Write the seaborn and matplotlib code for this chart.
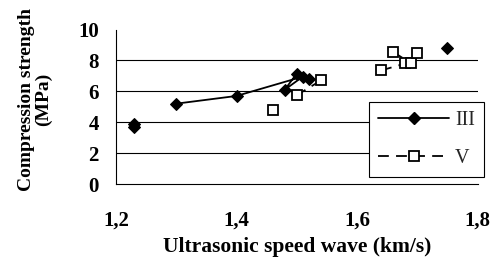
import matplotlib
matplotlib.use("Agg")
import matplotlib.pyplot as plt
import seaborn as sns
import pandas as pd
from matplotlib.lines import Line2D

sns.set_theme(style="white")
plt.rcParams["font.family"] = ["Liberation Serif", "DejaVu Serif"]

# ---------- data ----------
# series III: solid line with black diamonds (seg = which points are joined)
iii_x = [1.23, 1.23, 1.30, 1.40, 1.51, 1.48, 1.50, 1.52, 1.75]
iii_y = [3.9, 3.7, 5.2, 5.7, 6.95, 6.1, 7.15, 6.8, 8.8]
iii_seg = [0, 1, 2, 2, 2, 2, 2, 2, 3]

# series V: dashed line with open squares (only short links are visible)
v_x = [1.46, 1.54, 1.50, 1.64, 1.68, 1.66, 1.69, 1.70]
v_y = [4.8, 6.7, 5.75, 7.35, 7.8, 8.55, 7.8, 8.45]
v_seg = [0, 1, 1, 2, 2, 3, 3, 4]

x_ticks = [1.2, 1.4, 1.6, 1.8]
x_ticklabels = ["1,2", "1,4", "1,6", "1,8"]
y_ticks = [0, 2, 4, 6, 8, 10]
series_names = ["III", "V"]

df_iii = pd.DataFrame({"x": iii_x, "y": iii_y, "seg": iii_seg})
df_v = pd.DataFrame({"x": v_x, "y": v_y, "seg": v_seg})

fig = plt.figure(figsize=(4.97, 2.70), dpi=100)
ax = fig.add_axes([0.2334, 0.3185, 0.7274, 0.5722])

v_style = dict(color="black", lw=1.3, linestyle=(0, (6, 4)), marker="s",
               markersize=7.2, markerfacecolor="white", markeredgecolor="black",
               markeredgewidth=1.3)
iii_style = dict(color="black", lw=1.3, linestyle="-", marker="D",
                 markersize=6.6, markerfacecolor="black", markeredgecolor="black")

sns.lineplot(data=df_v, x="x", y="y", units="seg", estimator=None, sort=False,
             ax=ax, legend=False, **v_style)
sns.lineplot(data=df_iii, x="x", y="y", units="seg", estimator=None, sort=False,
             ax=ax, legend=False, **iii_style)

ax.set_xlim(1.2, 1.8)
ax.set_ylim(0, 10)
ax.set_xticks(x_ticks)
ax.set_xticklabels(x_ticklabels)
ax.set_yticks(y_ticks)
ax.set_yticklabels([str(t) for t in y_ticks])

ax.grid(False)
for t in y_ticks[1:-1]:
    ax.axhline(t, color="black", lw=0.8, zorder=0)

for s in ["top", "right"]:
    ax.spines[s].set_visible(False)
for s in ["left", "bottom"]:
    ax.spines[s].set_color("black")
    ax.spines[s].set_linewidth(0.8)

ax.tick_params(axis="both", direction="out", length=4.5, width=0.8, color="black",
               labelsize=15, labelcolor="black")
ax.tick_params(axis="y", pad=8)
ax.tick_params(axis="x", pad=15)
for lab in ax.get_xticklabels() + ax.get_yticklabels():
    lab.set_fontweight("bold")

ax.set_xlabel("Ultrasonic speed wave (km/s)", fontsize=15.5, fontweight="bold",
              color="black", labelpad=4)
ax.set_ylabel("Compression strength\n(MPa)", fontsize=14, fontweight="bold",
              color="black", linespacing=0.95)
ax.yaxis.set_label_coords(-0.177, 0.55)

handles = [Line2D([], [], **iii_style), Line2D([], [], **v_style)]
leg = fig.legend(handles, series_names, loc="upper left",
                 bbox_to_anchor=(0.743, 0.621), fontsize=14.5, frameon=True,
                 fancybox=False, framealpha=1, edgecolor="black",
                 handlelength=3.5, handletextpad=0.3, borderpad=0.45,
                 labelspacing=0.9, numpoints=1, borderaxespad=0)
leg.get_frame().set_linewidth(0.8)

fig.savefig("out.png", dpi=100)
